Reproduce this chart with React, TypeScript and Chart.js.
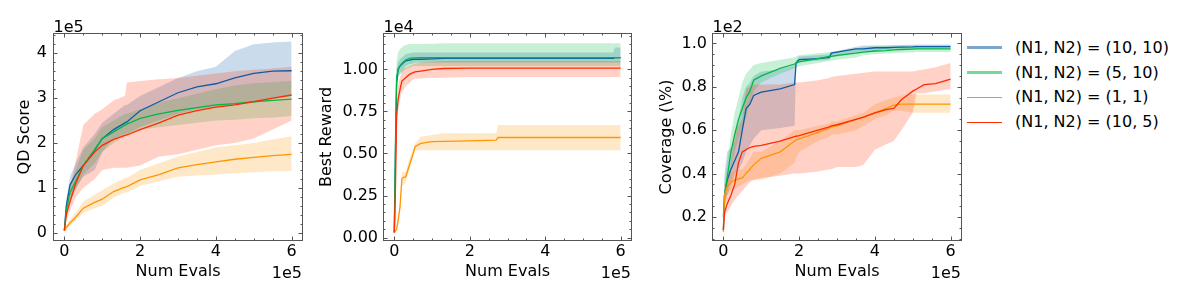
import React, { useEffect, useRef } from "react";
import { Chart, registerables } from "chart.js";

Chart.register(...registerables);

const FONT = "'DejaVu Sans', sans-serif";

// Colours (SciencePlots palette)
const BLUE = "#0C5DA5";
const GREEN = "#00B945";
const ORANGE = "#FF9500";
const RED = "#FF2C00";
const BLUE_FILL = "rgba(12,93,165,0.22)";
const GREEN_FILL = "rgba(0,185,69,0.22)";
const ORANGE_FILL = "rgba(255,149,0,0.22)";
const RED_FILL = "rgba(255,44,0,0.22)";

const LEGEND_LABELS = [
  "(N1, N2) = (10, 10)",
  "(N1, N2) = (5, 10)",
  "(N1, N2) = (1, 1)",
  "(N1, N2) = (10, 5)",
];

const X_TICKS = [0, 2, 4, 6];

// ---------- Panel 1: QD Score (x in 1e5 evals, y in 1e5) ----------
const QD_X = [0, 0.05, 0.15, 0.3, 0.5, 0.8, 1.0, 1.3, 1.6, 1.65, 2.0, 2.5, 3.0, 3.5, 4.0, 4.5, 5.0, 5.5, 6.0];
const QD_BLUE = [0.05, 0.6, 1.07, 1.3, 1.5, 1.85, 2.1, 2.3, 2.45, 2.47, 2.72, 2.92, 3.12, 3.25, 3.32, 3.45, 3.55, 3.6, 3.61];
const QD_BLUE_LO = [0.03, 0.4, 0.8, 1.0, 1.25, 1.4, 1.8, 2.1, 2.2, 2.2, 2.35, 2.5, 2.65, 2.75, 2.8, 2.85, 2.9, 2.98, 3.05];
const QD_BLUE_HI = [0.07, 0.75, 1.25, 1.55, 1.9, 2.2, 2.45, 2.65, 2.85, 2.85, 3.05, 3.25, 3.45, 3.6, 3.7, 4.05, 4.2, 4.24, 4.26];
const QD_GREEN = [0.05, 0.5, 0.9, 1.15, 1.5, 1.85, 2.1, 2.25, 2.4, 2.42, 2.55, 2.65, 2.73, 2.79, 2.85, 2.88, 2.92, 2.95, 2.98];
const QD_GREEN_LO = [0.03, 0.35, 0.7, 0.95, 1.3, 1.55, 1.8, 2.0, 2.15, 2.15, 2.3, 2.35, 2.4, 2.45, 2.5, 2.52, 2.55, 2.57, 2.6];
const QD_GREEN_HI = [0.07, 0.65, 1.05, 1.4, 1.85, 2.1, 2.35, 2.5, 2.65, 2.65, 2.75, 2.9, 3.0, 3.1, 3.2, 3.28, 3.33, 3.36, 3.38];
const QD_ORANGE = [0.05, 0.12, 0.22, 0.35, 0.55, 0.68, 0.75, 0.92, 1.02, 1.03, 1.18, 1.3, 1.45, 1.52, 1.58, 1.64, 1.68, 1.72, 1.75];
const QD_ORANGE_LO = [0.03, 0.08, 0.16, 0.28, 0.45, 0.55, 0.6, 0.78, 0.9, 0.9, 1.05, 1.15, 1.25, 1.28, 1.3, 1.33, 1.35, 1.37, 1.38];
const QD_ORANGE_HI = [0.07, 0.16, 0.3, 0.45, 0.7, 0.85, 0.95, 1.1, 1.22, 1.22, 1.4, 1.55, 1.7, 1.8, 1.9, 1.95, 2.0, 2.08, 2.15];
const QD_RED = [0.05, 0.4, 0.7, 1.1, 1.5, 1.8, 1.95, 2.08, 2.17, 2.18, 2.3, 2.45, 2.62, 2.72, 2.8, 2.85, 2.92, 3.0, 3.07];
const QD_RED_LO = [0.03, 0.25, 0.5, 0.8, 1.0, 1.2, 1.4, 1.45, 1.45, 1.45, 1.5, 1.7, 1.75, 1.85, 1.95, 2.0, 2.1, 2.3, 2.5];
const QD_RED_HI = [0.07, 0.6, 1.0, 1.6, 2.4, 2.65, 2.75, 2.95, 3.05, 3.35, 3.38, 3.42, 3.45, 3.5, 3.55, 3.6, 3.63, 3.66, 3.7];

// ---------- Panel 2: Best Reward (y in 1e4) ----------
const BR_X = [0, 0.03, 0.06, 0.1, 0.15, 0.2, 0.25, 0.3, 0.4, 0.5, 0.55, 0.7, 1.0, 1.3, 2.0, 2.7, 2.75, 5.8, 5.85, 6.0];
const BR_BLUE = [0.03, 0.5, 0.92, 1.0, 1.02, 1.03, 1.04, 1.05, 1.055, 1.06, 1.06, 1.06, 1.062, 1.065, 1.065, 1.065, 1.065, 1.065, 1.07, 1.07];
const BR_BLUE_LO = [0.03, 0.4, 0.85, 0.95, 0.98, 0.99, 1.0, 1.02, 1.03, 1.035, 1.04, 1.04, 1.04, 1.04, 1.04, 1.04, 1.04, 1.04, 1.04, 1.04];
const BR_BLUE_HI = [0.03, 0.6, 1.0, 1.04, 1.06, 1.07, 1.08, 1.09, 1.095, 1.1, 1.1, 1.1, 1.1, 1.1, 1.1, 1.1, 1.1, 1.1, 1.13, 1.13];
const BR_GREEN = [0.03, 0.55, 0.95, 1.0, 1.02, 1.035, 1.045, 1.055, 1.065, 1.068, 1.068, 1.07, 1.07, 1.07, 1.07, 1.07, 1.07, 1.07, 1.07, 1.07];
const BR_GREEN_LO = [0.03, 0.4, 0.85, 0.95, 0.97, 0.98, 0.99, 1.0, 1.01, 1.02, 1.02, 1.02, 1.02, 1.02, 1.02, 1.02, 1.02, 1.02, 1.02, 1.02];
const BR_GREEN_HI = [0.03, 0.7, 1.05, 1.1, 1.12, 1.13, 1.14, 1.145, 1.15, 1.15, 1.15, 1.15, 1.152, 1.155, 1.155, 1.155, 1.155, 1.155, 1.155, 1.155];
const BR_ORANGE = [0.03, 0.04, 0.05, 0.1, 0.18, 0.35, 0.36, 0.36, 0.43, 0.5, 0.54, 0.56, 0.57, 0.572, 0.575, 0.58, 0.595, 0.595, 0.595, 0.595];
const BR_ORANGE_LO = [0.03, 0.035, 0.045, 0.09, 0.16, 0.31, 0.31, 0.33, 0.4, 0.48, 0.52, 0.52, 0.52, 0.52, 0.52, 0.52, 0.52, 0.52, 0.52, 0.52];
const BR_ORANGE_HI = [0.03, 0.045, 0.055, 0.11, 0.2, 0.39, 0.39, 0.39, 0.47, 0.53, 0.56, 0.6, 0.61, 0.62, 0.62, 0.62, 0.67, 0.67, 0.67, 0.67];
const BR_RED = [0.03, 0.3, 0.72, 0.82, 0.88, 0.93, 0.94, 0.95, 0.97, 0.98, 0.985, 0.99, 1.0, 1.005, 1.007, 1.007, 1.007, 1.007, 1.007, 1.007];
const BR_RED_LO = [0.03, 0.2, 0.65, 0.75, 0.82, 0.87, 0.88, 0.9, 0.92, 0.94, 0.945, 0.945, 0.95, 0.95, 0.955, 0.955, 0.955, 0.955, 0.955, 0.955];
const BR_RED_HI = [0.03, 0.4, 0.8, 0.9, 0.95, 0.99, 1.0, 1.01, 1.02, 1.03, 1.035, 1.04, 1.045, 1.05, 1.05, 1.05, 1.05, 1.05, 1.05, 1.05];

// ---------- Panel 3: Coverage (y in 1e2) ----------
const CV_X = [0, 0.03, 0.1, 0.2, 0.3, 0.4, 0.5, 0.6, 0.7, 0.8, 1.0, 1.5, 1.88, 1.92, 2.0, 2.5, 2.8, 2.85, 3.0, 3.5, 3.7, 4.0, 4.3, 4.5, 4.7, 5.0, 5.1, 5.3, 5.6, 6.0];
const CV_BLUE = [0.14, 0.3, 0.37, 0.42, 0.46, 0.5, 0.6, 0.7, 0.72, 0.76, 0.775, 0.79, 0.81, 0.91, 0.925, 0.93, 0.935, 0.955, 0.96, 0.975, 0.975, 0.98, 0.98, 0.982, 0.983, 0.984, 0.985, 0.985, 0.985, 0.985];
const CV_BLUE_LO = [0.13, 0.25, 0.3, 0.35, 0.4, 0.42, 0.45, 0.5, 0.53, 0.56, 0.6, 0.61, 0.62, 0.9, 0.915, 0.92, 0.925, 0.935, 0.94, 0.955, 0.96, 0.965, 0.97, 0.97, 0.972, 0.973, 0.974, 0.975, 0.975, 0.975];
const CV_BLUE_HI = [0.15, 0.4, 0.5, 0.52, 0.55, 0.65, 0.75, 0.8, 0.82, 0.85, 0.87, 0.88, 0.9, 0.92, 0.94, 0.945, 0.95, 0.96, 0.965, 0.985, 0.99, 0.99, 0.99, 0.992, 0.993, 0.994, 0.995, 0.995, 0.995, 0.995];
const CV_GREEN = [0.2, 0.3, 0.38, 0.5, 0.58, 0.65, 0.7, 0.75, 0.78, 0.83, 0.85, 0.885, 0.905, 0.91, 0.915, 0.93, 0.94, 0.94, 0.945, 0.955, 0.96, 0.965, 0.967, 0.97, 0.972, 0.974, 0.975, 0.975, 0.975, 0.975];
const CV_GREEN_LO = [0.18, 0.25, 0.32, 0.42, 0.5, 0.56, 0.6, 0.66, 0.72, 0.78, 0.82, 0.86, 0.885, 0.89, 0.895, 0.91, 0.92, 0.92, 0.925, 0.935, 0.945, 0.95, 0.953, 0.955, 0.957, 0.958, 0.96, 0.96, 0.96, 0.96];
const CV_GREEN_HI = [0.22, 0.36, 0.45, 0.58, 0.68, 0.75, 0.82, 0.86, 0.88, 0.9, 0.91, 0.925, 0.935, 0.94, 0.945, 0.955, 0.96, 0.962, 0.965, 0.975, 0.985, 0.988, 0.99, 0.99, 0.99, 0.99, 0.99, 0.99, 0.99, 0.99];
const CV_ORANGE = [0.13, 0.3, 0.34, 0.36, 0.37, 0.375, 0.38, 0.4, 0.42, 0.44, 0.47, 0.5, 0.55, 0.555, 0.56, 0.59, 0.61, 0.615, 0.62, 0.65, 0.66, 0.68, 0.7, 0.715, 0.72, 0.72, 0.72, 0.72, 0.72, 0.72];
const CV_ORANGE_LO = [0.12, 0.25, 0.3, 0.32, 0.33, 0.34, 0.35, 0.36, 0.37, 0.37, 0.37, 0.4, 0.45, 0.47, 0.5, 0.55, 0.57, 0.58, 0.58, 0.6, 0.62, 0.65, 0.67, 0.69, 0.69, 0.68, 0.68, 0.68, 0.68, 0.68];
const CV_ORANGE_HI = [0.14, 0.35, 0.38, 0.4, 0.41, 0.42, 0.42, 0.44, 0.47, 0.5, 0.5, 0.55, 0.6, 0.6, 0.6, 0.62, 0.63, 0.64, 0.64, 0.67, 0.68, 0.72, 0.74, 0.75, 0.76, 0.765, 0.765, 0.765, 0.765, 0.765];
const CV_RED = [0.14, 0.22, 0.26, 0.3, 0.35, 0.45, 0.5, 0.51, 0.52, 0.525, 0.53, 0.55, 0.57, 0.572, 0.575, 0.6, 0.615, 0.62, 0.625, 0.65, 0.66, 0.68, 0.695, 0.7, 0.74, 0.78, 0.79, 0.81, 0.815, 0.835];
const CV_RED_LO = [0.13, 0.2, 0.22, 0.25, 0.28, 0.3, 0.32, 0.34, 0.36, 0.37, 0.38, 0.39, 0.4, 0.4, 0.4, 0.41, 0.42, 0.42, 0.43, 0.43, 0.44, 0.51, 0.535, 0.55, 0.6, 0.68, 0.77, 0.77, 0.78, 0.79];
const CV_RED_HI = [0.15, 0.25, 0.35, 0.45, 0.6, 0.62, 0.65, 0.79, 0.8, 0.81, 0.81, 0.81, 0.82, 0.82, 0.82, 0.83, 0.84, 0.845, 0.85, 0.86, 0.865, 0.87, 0.87, 0.87, 0.87, 0.87, 0.875, 0.88, 0.89, 0.91];

type Series = { color: string; fill: string; mean: number[]; lo: number[]; hi: number[] };

type PanelCfg = {
  left: number;
  width: number;
  yAxisWidth: number;
  padRight: number;
  titlePad: number;
  tickPad: number;
  yMin: number;
  yMax: number;
  yTicks: number[];
  yMinor: number;
  decimals: number;
  title: string;
  yExp: string;
  xs: number[];
  series: Series[]; // in legend order: blue, green, orange, red
};

const PANELS: PanelCfg[] = [
  {
    left: 0, width: 310, yAxisWidth: 53, padRight: 7, titlePad: 15.4, tickPad: 6,
    yMin: -0.18, yMax: 4.45, yTicks: [0, 1, 2, 3, 4], yMinor: 0.2, decimals: 0,
    title: "QD Score", yExp: "1e5", xs: QD_X,
    series: [
      { color: BLUE, fill: BLUE_FILL, mean: QD_BLUE, lo: QD_BLUE_LO, hi: QD_BLUE_HI },
      { color: GREEN, fill: GREEN_FILL, mean: QD_GREEN, lo: QD_GREEN_LO, hi: QD_GREEN_HI },
      { color: ORANGE, fill: ORANGE_FILL, mean: QD_ORANGE, lo: QD_ORANGE_LO, hi: QD_ORANGE_HI },
      { color: RED, fill: RED_FILL, mean: QD_RED, lo: QD_RED_LO, hi: QD_RED_HI },
    ],
  },
  {
    left: 310, width: 330, yAxisWidth: 73, padRight: 8, titlePad: 7.4, tickPad: 5,
    yMin: -0.02, yMax: 1.216, yTicks: [0, 0.25, 0.5, 0.75, 1.0], yMinor: 0.05, decimals: 2,
    title: "Best Reward", yExp: "1e4", xs: BR_X,
    series: [
      { color: BLUE, fill: BLUE_FILL, mean: BR_BLUE, lo: BR_BLUE_LO, hi: BR_BLUE_HI },
      { color: GREEN, fill: GREEN_FILL, mean: BR_GREEN, lo: BR_GREEN_LO, hi: BR_GREEN_HI },
      { color: ORANGE, fill: ORANGE_FILL, mean: BR_ORANGE, lo: BR_ORANGE_LO, hi: BR_ORANGE_HI },
      { color: RED, fill: RED_FILL, mean: BR_RED, lo: BR_RED_LO, hi: BR_RED_HI },
    ],
  },
  {
    left: 640, width: 326, yAxisWidth: 72, padRight: 4, titlePad: 17.4, tickPad: 5,
    yMin: 0.089, yMax: 1.048, yTicks: [0.2, 0.4, 0.6, 0.8, 1.0], yMinor: 0.05, decimals: 1,
    title: "Coverage (\\%)", yExp: "1e2", xs: CV_X,
    series: [
      { color: BLUE, fill: BLUE_FILL, mean: CV_BLUE, lo: CV_BLUE_LO, hi: CV_BLUE_HI },
      { color: GREEN, fill: GREEN_FILL, mean: CV_GREEN, lo: CV_GREEN_LO, hi: CV_GREEN_HI },
      { color: ORANGE, fill: ORANGE_FILL, mean: CV_ORANGE, lo: CV_ORANGE_LO, hi: CV_ORANGE_HI },
      { color: RED, fill: RED_FILL, mean: CV_RED, lo: CV_RED_LO, hi: CV_RED_HI },
    ],
  },
];

const X_MIN = -0.3;
const X_MAX = 6.3;
const X_MINOR = 0.5;

function minorValues(min: number, max: number, step: number, majors: number[]) {
  const out: number[] = [];
  for (let k = Math.ceil(min / step); k * step <= max + 1e-9; k++) {
    const v = k * step;
    if (!majors.some((m) => Math.abs(m - v) < 1e-6)) out.push(v);
  }
  return out;
}

const frameTicksPlugin = {
  id: "frameTicks",
  afterDraw(chart: any, _args: any, opts: any) {
    const { ctx, chartArea: a, scales } = chart;
    const xs = scales.x;
    const ys = scales.y;
    ctx.save();
    ctx.strokeStyle = "#555";
    ctx.lineWidth = 1;
    const seg = (x1: number, y1: number, x2: number, y2: number) => {
      ctx.beginPath();
      ctx.moveTo(x1, y1);
      ctx.lineTo(x2, y2);
      ctx.stroke();
    };
    const L = Math.round(a.left) + 0.5;
    const R = Math.round(a.right) - 0.5;
    const T = Math.round(a.top) + 0.5;
    const B = Math.round(a.bottom) - 0.5;
    const xMaj = X_TICKS;
    const xMin = minorValues(X_MIN, X_MAX, X_MINOR, xMaj);
    const yMaj: number[] = opts.yTicks;
    const yMin = minorValues(opts.yMin, opts.yMax, opts.yMinor, yMaj);
    const drawX = (vals: number[], len: number) => {
      vals.forEach((v) => {
        const p = Math.round(xs.getPixelForValue(v)) + 0.5;
        seg(p, B, p, B - len);
        seg(p, T, p, T + len);
      });
    };
    const drawY = (vals: number[], len: number) => {
      vals.forEach((v) => {
        const p = Math.round(ys.getPixelForValue(v)) + 0.5;
        seg(L, p, L + len, p);
        seg(R, p, R - len, p);
      });
    };
    drawX(xMaj, 4);
    drawX(xMin, 2);
    drawY(yMaj, 4);
    drawY(yMin, 2);
    ctx.strokeRect(L, T, R - L, B - T);
    // offset texts
    ctx.fillStyle = "#000";
    ctx.font = `16px ${FONT}`;
    ctx.textBaseline = "alphabetic";
    ctx.textAlign = "left";
    ctx.fillText(opts.yExp, a.left + 0.5, a.top - 1.5);
    ctx.textAlign = "right";
    ctx.fillText(opts.xExp, a.right - 1, 277.5);
    ctx.restore();
  },
};

function toPoints(xs: number[], ys: number[]) {
  return xs.map((x, i) => ({ x, y: ys[i] }));
}

function Panel({ cfg }: { cfg: PanelCfg }) {
  const ref = useRef<HTMLCanvasElement>(null);
  useEffect(() => {
    const lines: any[] = [];
    const bands: any[] = [];
    // Chart.js draws dataset 0 on top: put red first
    const ordered = [...cfg.series].reverse();
    ordered.forEach((s) => {
      lines.push({
        data: toPoints(cfg.xs, s.mean),
        borderColor: s.color,
        borderWidth: 1.3,
        pointRadius: 0,
        fill: false,
        tension: 0,
      });
    });
    ordered.forEach((s) => {
      bands.push({
        data: toPoints(cfg.xs, s.lo),
        borderColor: "rgba(0,0,0,0)",
        borderWidth: 1,
        pointRadius: 0,
        fill: false,
      });
      bands.push({
        data: toPoints(cfg.xs, s.hi),
        borderColor: "rgba(0,0,0,0)",
        borderWidth: 1,
        pointRadius: 0,
        backgroundColor: s.fill,
        fill: "-1",
      });
    });
    const font = { family: FONT, size: 16, lineHeight: 1.2 };
    const chart = new Chart(ref.current as HTMLCanvasElement, {
      type: "line",
      data: { datasets: [...lines, ...bands] },
      plugins: [frameTicksPlugin as any],
      options: {
        animation: false,
        responsive: false,
        maintainAspectRatio: false,
        events: [],
        layout: { padding: { left: 0, top: 33, right: cfg.padRight, bottom: 0 } },
        plugins: {
          legend: { display: false },
          tooltip: { enabled: false },
          filler: { drawTime: "beforeDatasetsDraw" },
          frameTicks: {
            yTicks: cfg.yTicks,
            yMin: cfg.yMin,
            yMax: cfg.yMax,
            yMinor: cfg.yMinor,
            yExp: cfg.yExp,
            xExp: "1e5",
          },
        } as any,
        scales: {
          x: {
            type: "linear",
            min: X_MIN,
            max: X_MAX,
            grid: { display: false, drawTicks: false },
            border: { display: false },
            afterBuildTicks: (s: any) => {
              s.ticks = X_TICKS.map((v) => ({ value: v }));
            },
            afterFit: (s: any) => {
              s.height = 59;
            },
            ticks: {
              autoSkip: false,
              maxRotation: 0,
              padding: 1.4,
              color: "#000",
              font,
              callback: (v: any) => String(v),
            },
            title: {
              display: true,
              text: "Num Evals",
              color: "#000",
              font,
              padding: { top: 0, bottom: 18.4 },
            },
          },
          y: {
            type: "linear",
            min: cfg.yMin,
            max: cfg.yMax,
            grid: { display: false, drawTicks: false },
            border: { display: false },
            afterBuildTicks: (s: any) => {
              s.ticks = cfg.yTicks.map((v) => ({ value: v }));
            },
            afterFit: (s: any) => {
              s.width = cfg.yAxisWidth;
            },
            ticks: {
              autoSkip: false,
              padding: cfg.tickPad,
              color: "#000",
              font,
              callback: (v: any) => Number(v).toFixed(cfg.decimals),
            },
            title: {
              display: true,
              text: cfg.title,
              color: "#000",
              font,
              padding: { top: cfg.titlePad, bottom: 0 },
            },
          },
        },
      } as any,
    });
    return () => chart.destroy();
  }, [cfg]);
  return (
    <canvas
      ref={ref}
      width={cfg.width}
      height={300}
      style={{ position: "absolute", left: cfg.left, top: 0, width: cfg.width, height: 300 }}
    />
  );
}

const LEGEND_STYLES = [
  { color: "rgba(12,93,165,0.55)", thick: 3 },
  { color: "rgba(0,185,69,0.55)", thick: 3 },
  { color: ORANGE, thick: 1.5 },
  { color: RED, thick: 1.5 },
];
const LEGEND_ROWS = [47.7, 72.6, 97.4, 122.3];

export default function App() {
  return (
    <div
      style={{
        position: "absolute",
        left: 0,
        top: 0,
        width: 1200,
        height: 300,
        background: "#fff",
        overflow: "hidden",
      }}
    >
      {PANELS.map((p, i) => (
        <Panel key={i} cfg={p} />
      ))}
      {LEGEND_LABELS.map((label, i) => (
        <div
          key={label}
          style={{
            position: "absolute",
            left: 967,
            top: LEGEND_ROWS[i] - 10,
            height: 20,
            width: 230,
          }}
        >
          <div
            style={{
              position: "absolute",
              left: 0,
              top: 10 - LEGEND_STYLES[i].thick / 2,
              width: 35,
              height: LEGEND_STYLES[i].thick,
              background: LEGEND_STYLES[i].color,
            }}
          />
          <div
            style={{
              position: "absolute",
              left: 48,
              top: 0,
              height: 20,
              lineHeight: "20px",
              fontFamily: FONT,
              fontSize: 16,
              color: "#000",
              whiteSpace: "nowrap",
            }}
          >
            {label}
          </div>
        </div>
      ))}
    </div>
  );
}
